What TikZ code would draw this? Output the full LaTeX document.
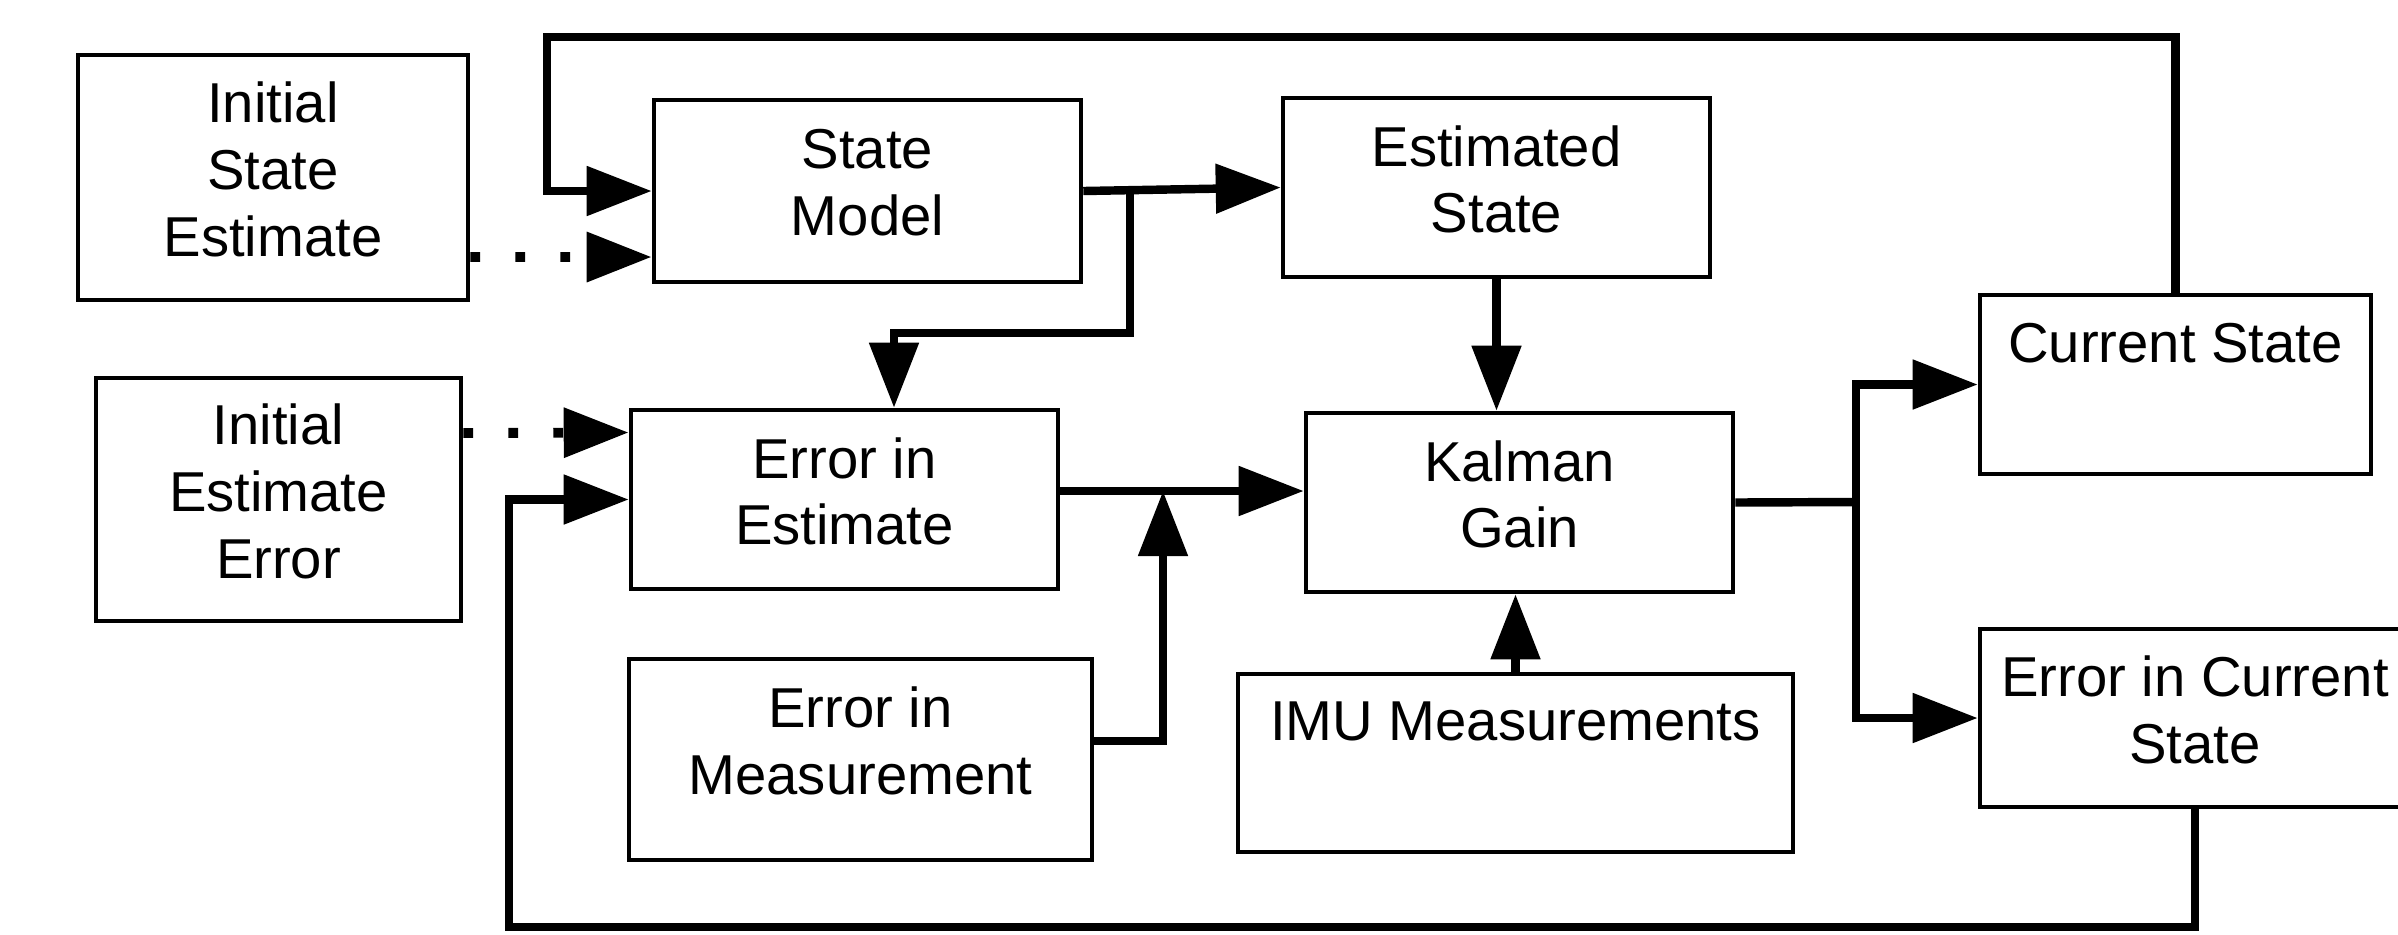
\documentclass[tikz,border=0pt]{standalone}
\usepackage{fontspec}
\setmainfont{Liberation Sans}
\usetikzlibrary{arrows.meta,calc}
\tikzset{blk/.style={draw=black, line width=1.3pt, align=center, inner sep=0pt, text depth=0.17cm, font=\fontsize{16}{19}\selectfont},
  toptext/.style={text height=0.65cm, text depth=1.1cm},
  conn/.style={line width=2.4pt},
  arr/.style={conn, -{Triangle[length=0.65cm,width=0.48cm]}},
  dotarr/.style={line width=2.8pt, dash pattern=on 2.8pt off 10pt, -{Triangle[length=0.65cm,width=0.48cm]}}}

\begin{document}
\begin{tikzpicture}
\useasboundingbox (0,0) rectangle (23.98,-9.34);
\node (ise) at (2.73,-1.775) [blk, minimum width=3.9cm, minimum height=2.45cm] {Initial\\State\\Estimate};
\node (sm) at (8.675,-1.91) [blk, minimum width=4.27cm, minimum height=1.82cm] {State\\Model};
\node (es) at (14.965,-1.875) [blk, minimum width=4.27cm, minimum height=1.79cm] {Estimated\\State};
\node (cs) at (21.755,-3.845) [blk, toptext, minimum width=3.91cm, minimum height=1.79cm] {Current State};
\node (iee) at (2.785,-4.995) [blk, minimum width=3.65cm, minimum height=2.43cm] {Initial\\Estimate\\Error};
\node (eie) at (8.445,-4.995) [blk, minimum width=4.27cm, minimum height=1.79cm] {Error in\\Estimate};
\node (kg) at (15.195,-5.025) [blk, minimum width=4.27cm, minimum height=1.79cm] {Kalman\\Gain};
\node (eim) at (8.605,-7.595) [blk, text depth=0.38cm, minimum width=4.63cm, minimum height=2.01cm] {Error in\\Measurement};
\node (imu) at (15.155,-7.63) [blk, toptext, minimum width=5.55cm, minimum height=1.78cm] {IMU Measurements};
\node (ecs) at (21.95,-7.18) [blk, minimum width=4.3cm, minimum height=1.78cm] {Error in Current\\State};

\coordinate (top) at (5.47,-0.37);
\coordinate (bot) at (5.09,-9.27);
\coordinate (br) at (11.30,-1.90);
\coordinate (dn) at (11.30,-3.33);
\coordinate (mix) at (11.63,-4.91);
\coordinate (out) at (18.56,-5.02);

\draw[arr] (cs.north) |- (top) |- (sm.west);
\draw[dotarr] ([yshift=-0.795cm]ise.east) -- ([yshift=-0.66cm]sm.west);
\draw[arr] (sm.east) -- (es.west);
\draw[arr] (br) -- (dn) -| ([xshift=0.495cm]eie.north);
\draw[arr] (es.south) -- (es.south |- kg.north);
\draw[dotarr] ([yshift=0.665cm]iee.east) -- ([yshift=0.67cm]eie.west);
\draw[arr] (eie.east |- mix) -- (kg.west |- mix);
\draw[arr] ([yshift=0.185cm]eim.east) -| (mix);
\draw[arr] (imu.north) -- (imu.north |- kg.south);
\draw[conn] (kg.east) -- (out);
\draw[arr] (out) |- (cs.west);
\draw[arr] (out) |- (ecs.west);
\draw[arr] (ecs.south) |- (bot) |- (eie.west);
\end{tikzpicture}
\end{document}
